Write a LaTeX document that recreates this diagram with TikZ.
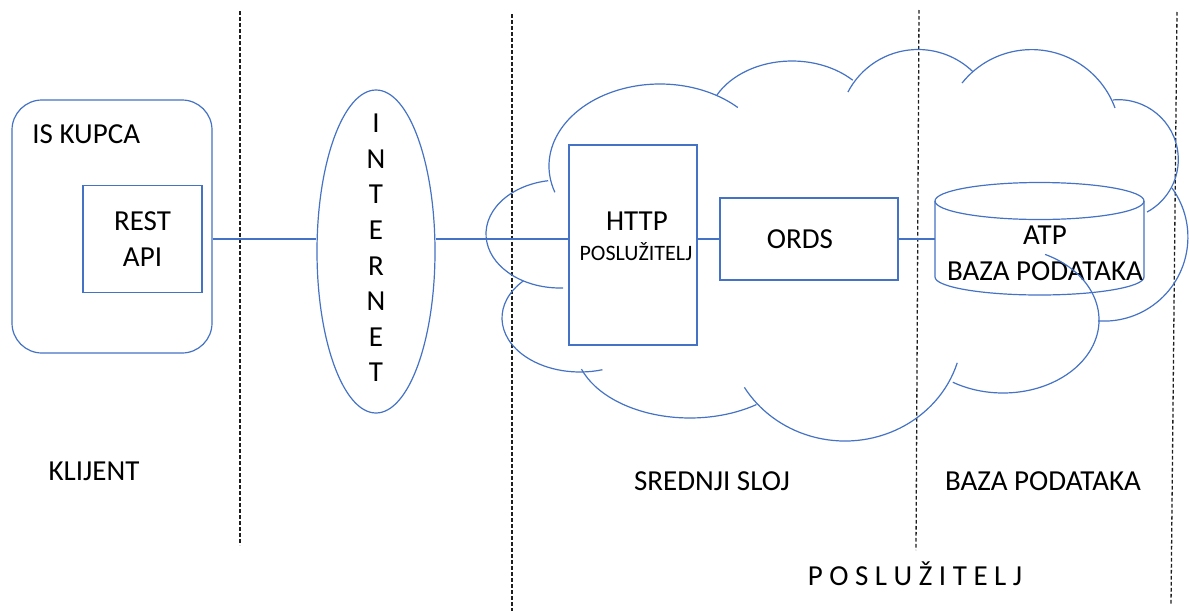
\documentclass[tikz,border=0pt]{standalone}
\usepackage{fontspec}
\setmainfont{Carlito}
\usetikzlibrary{positioning}
\usetikzlibrary{shapes.geometric}
\definecolor{boxblue}{RGB}{68,114,196}
\definecolor{dashgray}{RGB}{30,30,30}
\tikzset{
  box_line/.style={draw=boxblue, line width=0.6pt, inner sep=0},
  round_box/.style={box_line, rounded corners=15pt},
  oval_box/.style={box_line, ellipse},
  link_line/.style={draw=boxblue, line width=0.6pt},
  cloud_arc/.style={draw=boxblue, line width=0.6pt},
  tier_line/.style={draw=dashgray, line width=0.65pt, dash pattern=on 1.8pt off 1.2pt},
  big_text/.style={inner sep=0, font=\fontsize{14.5}{17.8}\selectfont, align=center},
  small_text/.style={inner sep=0, font=\fontsize{11}{13}\selectfont}}

\begin{document}
\begin{tikzpicture}[x=0.5pt, y=-0.5pt]
\useasboundingbox (0,0) rectangle (1189,611);

%% tier borders
\draw[tier_line] (240,11) -- (240,545);
\draw[tier_line] (512,14) -- (512,611);
\draw[tier_line] (919,10) -- (916,550);
\draw[tier_line] (1177,12) -- (1171,605);

%% client
\node[round_box, minimum width=100pt, minimum height=126.5pt] at (112,226.5) (iskupca) {};
\node[big_text, anchor=base west] at (32,143) (iskupca_lbl) {IS KUPCA};
\node[box_line, big_text, minimum width=59.5pt, minimum height=53.5pt] at (142.5,239) (restapi) {REST\\API};

%% internet
\node[oval_box, minimum width=59pt, minimum height=161.5pt] at (376,251.5) (internet) {};
\node[big_text] at (376,248) (internet_lbl) {I\\N\\T\\E\\R\\N\\E\\T};

%% server side
\node[box_line, minimum width=64pt, minimum height=100pt] at (633,245) (http) {};
\node[big_text, anchor=base] at (637,230) (http_lbl) {HTTP};
\node[small_text, anchor=base] at (636,260) (http_sub) {POSLUŽITELJ};

\node[box_line, minimum width=89pt, minimum height=41pt] at (809,239) (ords) {};
\node[big_text, anchor=base] at (800,248) (ords_lbl) {ORDS};

\draw[box_line] (935,201) -- (935,277) arc[start angle=180, end angle=0, x radius=104.5, y radius=18] -- (1144,201);
\draw[box_line] (1039.5,201) ellipse[x radius=104.5, y radius=18.5];
\coordinate (atp) at (935,239);
\node[big_text, anchor=base] at (1045,244) (atp_lbl) {ATP};
\node[big_text, anchor=base] at (1045,280) (atp_sub) {BAZA PODATAKA};

%% links
\draw[link_line] (iskupca.east |- restapi.east) -- (internet.west |- restapi.east);
\draw[link_line] (internet.east |- ords.west) -- (http.west |- ords.west);
\draw[link_line] (http.east |- ords.west) -- (ords.west);
\draw[link_line] (ords.east) -- (atp);

%% cloud
\draw[cloud_arc] (660,166) ++(161.3:111 and 82) arc[start angle=161.3, end angle=314.5, x radius=111, y radius=82];
\draw[cloud_arc] (792,125) ++(208:85 and 64) arc[start angle=208, end angle=315.6, x radius=85, y radius=64];
\draw[cloud_arc] (918,128.5) ++(207.5:79 and 79) arc[start angle=207.5, end angle=314.2, x radius=79, y radius=79];
\draw[cloud_arc] (1031.5,138.5) ++(218.6:88.9 and 88.9) arc[start angle=218.6, end angle=339.9, x radius=88.9, y radius=88.9];
\draw[cloud_arc] (1118.5,159.5) ++(264.7:59.8 and 59.8) arc[start angle=264.7, end angle=421.5, x radius=59.8, y radius=59.8];
\draw[cloud_arc] (1104,237.2) ++(-35.9:83.9 and 83.9) arc[start angle=-35.9, end angle=94, x radius=83.9, y radius=83.9];
\draw[cloud_arc] (1003,320) ++(-64:96 and 73) arc[start angle=-64, end angle=121.5, x radius=96, y radius=73];
\draw[cloud_arc] (845,330) ++(17.2:117.5 and 111) arc[start angle=17.2, end angle=148.9, x radius=117.5, y radius=111];
\draw[cloud_arc] (690,345) ++(160.7:115 and 73) arc[start angle=160.7, end angle=54.7, x radius=115, y radius=73];
\draw[cloud_arc] (580,318) ++(223.4:78 and 54) arc[start angle=223.4, end angle=73.3, x radius=78, y radius=54];
\draw[cloud_arc] (560,234) ++(260.8:74 and 54) arc[start angle=260.8, end angle=87.6, x radius=74, y radius=54];

%% tier labels
\node[big_text, anchor=base] at (94,480) (klijent) {KLIJENT};
\node[big_text, anchor=base] at (712,490) (srednji) {SREDNJI SLOJ};
\node[big_text, anchor=base] at (1043,490) (baza) {BAZA PODATAKA};
\node[big_text, anchor=base] at (915,585) (posluzitelj) {P O S L U Ž I T E L J};

\end{tikzpicture}
\end{document}
